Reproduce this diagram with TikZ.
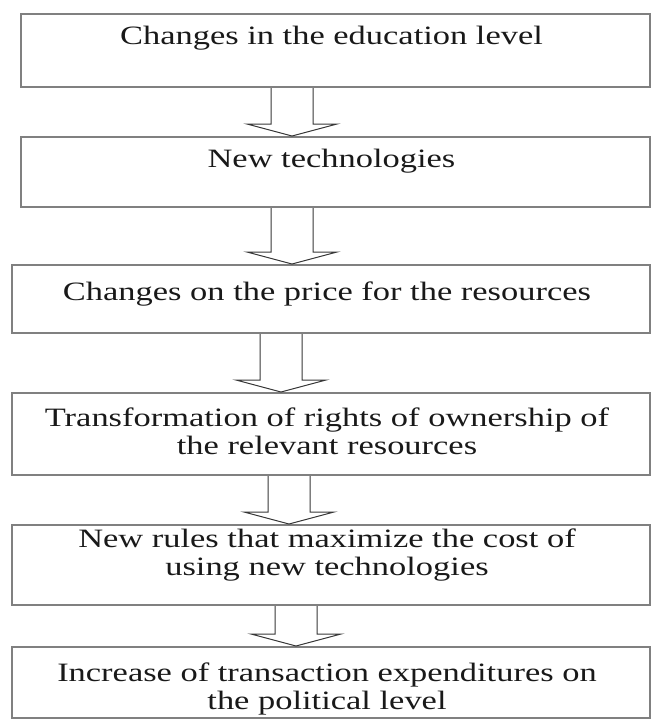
\documentclass[tikz,border=0pt]{standalone}
\usepackage{fontspec}
\setmainfont{Liberation Serif}[FakeStretch=1.3]
\usetikzlibrary{calc}
\definecolor{boxgris}{RGB}{128,128,128}
\definecolor{flecha}{RGB}{55,55,55}
\definecolor{tinta}{RGB}{25,25,25}

\begin{document}
\begin{tikzpicture}[x=1pt,y=-1pt,
    stagebox/.style={draw=boxgris,line width=2pt,inner sep=0pt},
    stagetext/.style={text=tinta,align=center,inner sep=0pt,
      font=\fontsize{26.5pt}{28pt}\selectfont},
    hollow/.style={draw=flecha,line width=1pt,line join=miter}]
  \useasboundingbox (0,0) rectangle (652,723);
  % boxes
  \foreach \n/\xc/\yc/\w/\h in {1/335.5/50.5/629/73,2/335.5/172/629/70,
      3/331/299/638/68,4/331/434/638/82,5/331/565/638/80,6/331/682.5/638/71}
    \node[stagebox,minimum width=\w pt,minimum height=\h pt] (b\n) at (\xc,\yc) {};
  % texts, last baseline below the top of each box
  \foreach \n/\d/\txt in {1/31/{Changes in the education level},
      2/31/{New technologies},
      3/36/{Changes on the price for the resources},
      4/62/{Transformation of rights of ownership of\\the relevant resources},
      5/51/{New rules that maximize the cost of\\using new technologies},
      6/63/{Increase of transaction expenditures on\\the political level}}
    \node[stagetext,anchor=base] (t\n) at ([xshift=-4pt,yshift=-\d pt]b\n.north) {\txt};
  % hollow arrows
  \foreach \src/\dst/\xa in {b1/b2/292,b2/b3/292,b3/b4/281,b4/b5/289,b5/b6/296}{
    \coordinate (axis) at (\xa,0);
    \draw[hollow] ($(axis |- \src.south)+(-21,0)$) -- ($(axis |- \dst.north)+(-21,-12)$)
      -- ($(axis |- \dst.north)+(-45,-12)$) -- (axis |- \dst.north)
      -- ($(axis |- \dst.north)+(45,-12)$) -- ($(axis |- \dst.north)+(21,-12)$)
      -- ($(axis |- \src.south)+(21,0)$);
  }
\end{tikzpicture}
\end{document}
